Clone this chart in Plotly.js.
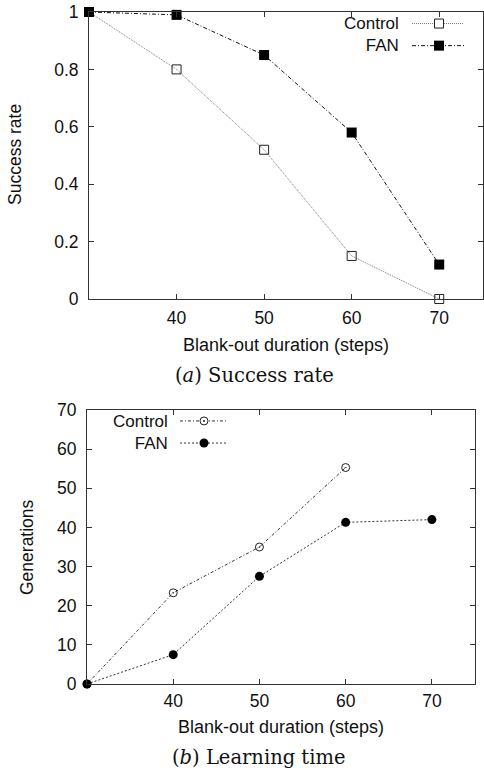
<!DOCTYPE html>
<html>
<head>
<meta charset="utf-8">
<script src="https://cdn.plot.ly/plotly-3.0.1.min.js"></script>
<style>html,body{margin:0;padding:0;background:#fff;}#chart{width:484px;height:770px;}</style>
</head>
<body>
<div id="chart"></div>
<script>
// ---- data ----
const durations = [30, 40, 50, 60, 70];
const successControl = [1, 0.8, 0.52, 0.15, 0];
const successFAN = [1, 0.99, 0.85, 0.58, 0.12];
const genDurationsControl = [30, 40, 50, 60];
const genControl = [0, 23.3, 35, 55.3];
const genDurationsFAN = [30, 40, 50, 60, 70];
const genFAN = [0, 7.5, 27.5, 41.3, 42];
const xTickVals = [40, 50, 60, 70];
const successTickVals = [0, 0.2, 0.4, 0.6, 0.8, 1];
const successTickText = ['0', '0.2', '0.4', '0.6', '0.8', '1'];
const genTickVals = [0, 10, 20, 30, 40, 50, 60, 70];
const seriesNames = ['Control', 'FAN'];

// ---- helpers ----
const W = 484, H = 770;
const px = v => v / W;
const py = v => 1 - v / H;
const FONT = 'Liberation Sans, Arial, sans-serif';
const FS = 17.5;
const LFS = 17;               // legend font size
const LSP = LFS * 1.3;        // plotly line spacing for <br>

const dashCtlTop = '1px,1px';
const dashFanTop = '4px,2px,1px,2px';
const dashCtlBot = '3px,2px,1px,2px';
const dashFanBot = '2px,2px';

const traces = [
  {x: durations, y: successControl, xaxis: 'x', yaxis: 'y', mode: 'lines+markers', name: seriesNames[0],
   line: {color: '#777', width: 1, dash: dashCtlTop},
   marker: {symbol: 'square-open', size: 9, color: '#222', line: {width: 1, color: '#222'}}, cliponaxis: false},
  {x: durations, y: successFAN, xaxis: 'x', yaxis: 'y', mode: 'lines+markers', name: seriesNames[1],
   line: {color: '#111', width: 1, dash: dashFanTop},
   marker: {symbol: 'square', size: 10, color: '#000'}, cliponaxis: false},
  {x: genDurationsControl, y: genControl, xaxis: 'x2', yaxis: 'y2', mode: 'lines+markers', name: seriesNames[0],
   line: {color: '#333', width: 1, dash: dashCtlBot},
   marker: {symbol: 'circle-open-dot', size: 8, color: '#222', line: {width: 1, color: '#222'}}, cliponaxis: false},
  {x: genDurationsFAN, y: genFAN, xaxis: 'x2', yaxis: 'y2', mode: 'lines+markers', name: seriesNames[1],
   line: {color: '#333', width: 1, dash: dashFanBot},
   marker: {symbol: 'circle', size: 9, color: '#000'}, cliponaxis: false}
];

const axisCommon = {
  showline: true, mirror: 'ticks', linecolor: '#333', linewidth: 1,
  ticks: 'inside', ticklen: 5, tickcolor: '#333', tickwidth: 1,
  showgrid: false, zeroline: false,
  tickfont: {family: FONT, size: FS, color: '#111'}
};

// legend block centres (px from top)
const legTopY = 34.6, legBotY = 432;
const legTopRows = [legTopY - LSP / 2, legTopY + LSP / 2];
const legBotRows = [legBotY - LSP / 2, legBotY + LSP / 2];

const layout = {
  width: W, height: H,
  margin: {l: 0, r: 0, t: 0, b: 0},
  paper_bgcolor: '#fff', plot_bgcolor: '#fff',
  showlegend: false,
  font: {family: FONT, size: FS, color: '#111'},
  xaxis: Object.assign({}, axisCommon, {domain: [px(89), px(483)], range: [30, 75], anchor: 'y',
    tickvals: xTickVals, ticklabelstandoff: 3}),
  yaxis: Object.assign({}, axisCommon, {domain: [py(299), py(12)], range: [0, 1], anchor: 'x',
    tickvals: successTickVals, ticktext: successTickText, ticklabelstandoff: 6}),
  xaxis2: Object.assign({}, axisCommon, {domain: [px(87), px(475)], range: [30, 75], anchor: 'y2',
    tickvals: xTickVals, ticklabelstandoff: 1}),
  yaxis2: Object.assign({}, axisCommon, {domain: [py(684), py(410)], range: [0, 70], anchor: 'x2',
    tickvals: genTickVals, ticklabelstandoff: 6}),
  annotations: [
    {text: 'Blank-out duration (steps)', x: px(286), y: py(345), xref: 'paper', yref: 'paper', showarrow: false,
     xanchor: 'center', yanchor: 'middle', font: {family: FONT, size: 18, color: '#111'}},
    {text: 'Success rate', x: px(15), y: py(155), xref: 'paper', yref: 'paper', showarrow: false, textangle: -90,
     xanchor: 'center', yanchor: 'middle', font: {family: FONT, size: FS, color: '#111'}},
    {text: 'Blank-out duration (steps)', x: px(281), y: py(727), xref: 'paper', yref: 'paper', showarrow: false,
     xanchor: 'center', yanchor: 'middle', font: {family: FONT, size: 18, color: '#111'}},
    {text: 'Generations', x: px(27), y: py(547), xref: 'paper', yref: 'paper', showarrow: false, textangle: -90,
     xanchor: 'center', yanchor: 'middle', font: {family: FONT, size: FS, color: '#111'}},
    {text: '(<i>a</i>) Success rate', x: px(255), y: py(375), xref: 'paper', yref: 'paper', showarrow: false,
     xanchor: 'center', yanchor: 'middle', font: {family: 'DejaVu Serif, serif', size: 19.5, color: '#111'}},
    {text: '(<i>b</i>) Learning time', x: px(258), y: py(757), xref: 'paper', yref: 'paper', showarrow: false,
     xanchor: 'center', yanchor: 'middle', font: {family: 'DejaVu Serif, serif', size: 19.5, color: '#111'}},
    // legend text blocks
    {text: seriesNames.join('<br>'), align: 'right', x: px(401), y: py(legTopY), xref: 'paper', yref: 'paper', showarrow: false,
     xanchor: 'right', yanchor: 'middle', font: {family: FONT, size: LFS, color: '#111'}},
    {text: seriesNames.join('<br>'), align: 'right', x: px(170), y: py(legBotY), xref: 'paper', yref: 'paper', showarrow: false,
     xanchor: 'right', yanchor: 'middle', font: {family: FONT, size: LFS, color: '#111'}}
  ],
  shapes: [
    // legend keys top
    {type: 'line', xref: 'paper', yref: 'paper', x0: px(412), x1: px(464), y0: py(legTopRows[0]), y1: py(legTopRows[0]), line: {color: '#777', width: 1, dash: dashCtlTop}},
    {type: 'rect', xref: 'paper', yref: 'paper', x0: px(434.5), x1: px(443.5), y0: py(legTopRows[0] - 4.5), y1: py(legTopRows[0] + 4.5), fillcolor: '#fff', line: {color: '#222', width: 1}},
    {type: 'line', xref: 'paper', yref: 'paper', x0: px(412), x1: px(464), y0: py(legTopRows[1]), y1: py(legTopRows[1]), line: {color: '#111', width: 1, dash: dashFanTop}},
    {type: 'rect', xref: 'paper', yref: 'paper', x0: px(434), x1: px(444), y0: py(legTopRows[1] - 5), y1: py(legTopRows[1] + 5), fillcolor: '#000', line: {color: '#000', width: 0}},
    // legend keys bottom
    {type: 'line', xref: 'paper', yref: 'paper', x0: px(180), x1: px(228), y0: py(legBotRows[0]), y1: py(legBotRows[0]), line: {color: '#333', width: 1, dash: dashCtlBot}},
    {type: 'circle', xref: 'paper', yref: 'paper', x0: px(200), x1: px(208), y0: py(legBotRows[0] - 4), y1: py(legBotRows[0] + 4), fillcolor: '#fff', line: {color: '#222', width: 1}},
    {type: 'circle', xref: 'paper', yref: 'paper', x0: px(203), x1: px(205), y0: py(legBotRows[0] - 1), y1: py(legBotRows[0] + 1), fillcolor: '#222', line: {color: '#222', width: 0}},
    {type: 'line', xref: 'paper', yref: 'paper', x0: px(180), x1: px(228), y0: py(legBotRows[1]), y1: py(legBotRows[1]), line: {color: '#333', width: 1, dash: dashFanBot}},
    {type: 'circle', xref: 'paper', yref: 'paper', x0: px(199.5), x1: px(208.5), y0: py(legBotRows[1] - 4.5), y1: py(legBotRows[1] + 4.5), fillcolor: '#000', line: {color: '#000', width: 0}}
  ]
};

Plotly.newPlot('chart', traces, layout, {displayModeBar: false, staticPlot: true});
</script>
</body>
</html>
